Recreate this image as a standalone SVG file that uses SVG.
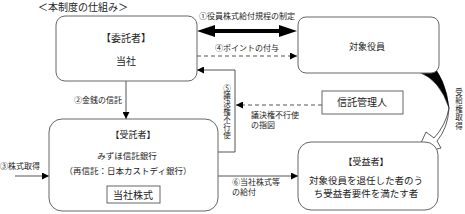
<svg xmlns="http://www.w3.org/2000/svg" width="465" height="214" viewBox="0 0 465 214">
<defs>
<marker id="ah" viewBox="0 0 10 10" refX="10" refY="5" markerWidth="7" markerHeight="7" markerUnits="userSpaceOnUse" orient="auto"><path d="M0,0 L10,5 L0,10 Z" fill="#000"/></marker>
</defs>
<style>
text{font-family:"Noto Sans CJK JP","Liberation Serif",serif;fill:#222;}
.box{fill:#fff;stroke:#666;stroke-width:1;}
.ln{fill:none;stroke:#555;stroke-width:1;}
.dash{fill:none;stroke:#555;stroke-width:1;stroke-dasharray:4,3;}
.s8{font-size:8px;}
.s9{font-size:9px;}
.s10{font-size:10px;}
.mid{text-anchor:middle;}
.v{writing-mode:vertical-rl;text-orientation:upright;font-size:7.5px;letter-spacing:0.4px;}
</style>
<rect width="465" height="214" fill="#fff"/>
<text x="38" y="11" class="s10">＜本制度の仕組み＞</text>

<g id="connectors">
<!-- ① thick double arrow -->
<line x1="212" y1="31" x2="282" y2="31" stroke="#000" stroke-width="4"/>
<path d="M197,31 L215,25 L215,37 Z" fill="#000"/>
<path d="M297,31 L279,25 L279,37 Z" fill="#000"/>
<text x="199" y="19" class="s8">①役員株式給付規程の制定</text>
<!-- ④ dashed -->
<line x1="197" y1="56" x2="297" y2="56" class="dash" marker-end="url(#ah)"/>
<text x="215" y="51" class="s8">④ポイントの付与</text>
<!-- ② -->
<line x1="126" y1="81" x2="126" y2="119" class="ln" marker-end="url(#ah)"/>
<text x="74" y="103" class="s8">②金銭の信託</text>
<!-- ③ -->
<line x1="15" y1="176" x2="49" y2="176" class="ln" marker-end="url(#ah)"/>
<text x="0" y="169" class="s8">③株式取得</text>
<!-- ⑤ -->
<path d="M218,152 L235,152 L235,70 L197,70" class="ln" marker-end="url(#ah)"/>
<text x="227" y="84" class="v">⑤議決権不行使</text>
<!-- 指図 dashed -->
<line x1="322" y1="105" x2="236" y2="105" class="dash" marker-end="url(#ah)"/>
<text x="251" y="118" class="s8">議決権不行使</text>
<text x="251" y="128" class="s8">の指図</text>
<!-- ⑥ -->
<line x1="218" y1="176" x2="298" y2="176" class="ln" marker-end="url(#ah)"/>
<text x="232" y="185" class="s8">⑥当社株式等</text>
<text x="232" y="195" class="s8">の給付</text>
<!-- 受給権取得 curved arrow -->
<path d="M418,60 L428,60 Q446,78 449,108 Q440,80 419,72 Z" fill="#000" stroke="#000" stroke-width="0.6"/>
<path d="M449,108 Q446,125 434,138 L426,132 L416,154 L441,148 L437,141 Q448,128 449,108 Z" fill="#fff" stroke="#333" stroke-width="0.8"/>
<text x="459" y="88" class="v" style="letter-spacing:1px">受給権取得</text>
</g>

<g id="itakusha">
<rect x="56" y="16" width="141" height="65" rx="9" class="box"/>
<text x="126" y="42" class="s10 mid">【委託者】</text>
<text x="126" y="65" class="s10 mid">当社</text>
</g>

<g id="taisho">
<rect x="298" y="17" width="141" height="56" rx="8" class="box"/>
<text x="367" y="50" class="s9 mid">対象役員</text>
</g>

<g id="shintaku-kanrinin">
<rect x="322" y="91" width="81" height="23" class="box"/>
<text x="362" y="106" class="s10 mid">信託管理人</text>
</g>

<g id="jutakusha">
<rect x="49" y="119" width="169" height="92" rx="13" class="box"/>
<text x="133" y="138" class="s9 mid">【受託者】</text>
<text x="127" y="159" class="mid" style="font-size:8.5px">みずほ信託銀行</text>
<text x="128" y="174" class="mid" style="font-size:8.5px">（再信託：日本カストディ銀行）</text>
<rect x="107" y="186" width="53" height="17" class="box"/>
<text x="133" y="198.5" class="s10 mid">当社株式</text>
</g>

<g id="jueki">
<rect x="298" y="142" width="140" height="68" rx="13" class="box"/>
<text x="366" y="165" class="s9 mid">【受益者】</text>
<text x="366" y="184" class="mid" style="font-size:9.5px">対象役員を退任した者のう</text>
<text x="366" y="197" class="mid" style="font-size:9.5px">ち受益者要件を満たす者</text>
</g>
</svg>
